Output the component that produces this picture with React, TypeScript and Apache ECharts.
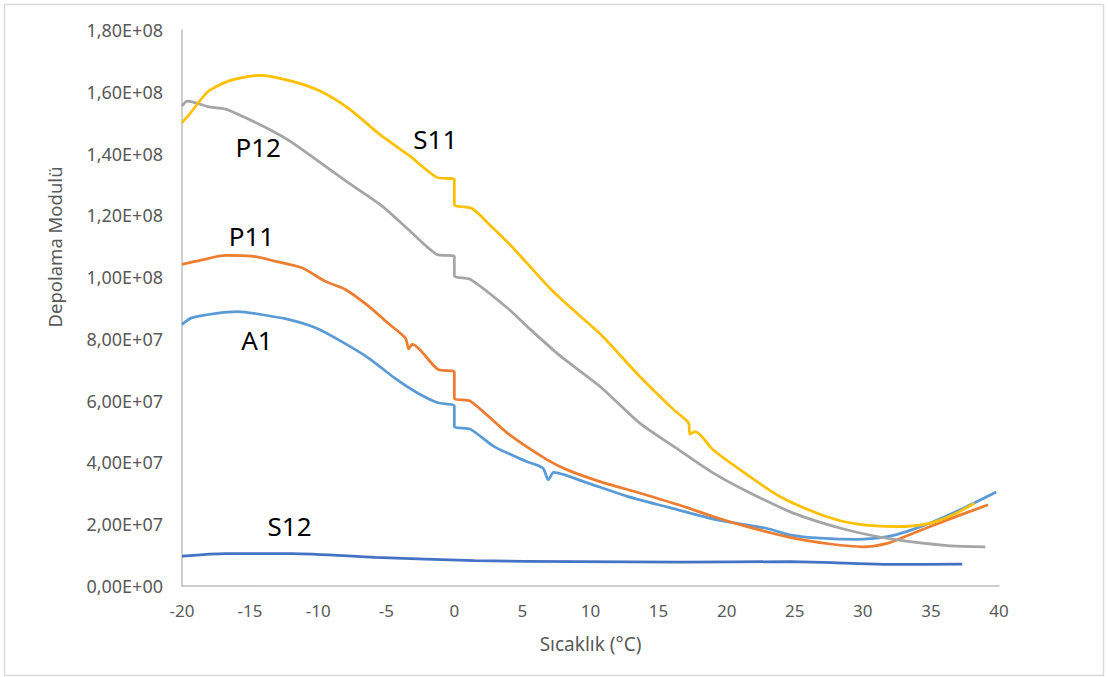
import React, { useEffect, useRef } from "react";
import * as echarts from "echarts";

// Storage modulus (in units of 1e6) versus temperature (°C) for each sample
const A1: [number, number][] = [
  [-20, 84.7], [-19.3, 86.8], [-17.6, 88.2], [-15.9, 88.8], [-14.2, 87.9], [-12.2, 86.3],
  [-10.2, 83.6], [-8.3, 79.2], [-6.3, 73.8], [-4.4, 67.4], [-2.7, 62.5], [-1.2, 59.3],
  [0, 58.2], [0, 51.7], [1.2, 50.7], [2.9, 45.2], [5.3, 40.3], [6.5, 38.2], [6.9, 34.4],
  [7.3, 36.8], [9.5, 33.8], [12.7, 29], [15.6, 25.6], [19.3, 21.4], [22.9, 18.7],
  [24.7, 16.5], [26.9, 15.5], [29.6, 15.1], [31.8, 16], [33.2, 17.6], [34.9, 20.3],
  [37.4, 25.2], [39.8, 30.4],
];

const P11: [number, number][] = [
  [-20, 104.1], [-18.6, 105.5], [-16.8, 107], [-14.9, 106.8], [-13.2, 105.2], [-11.2, 103],
  [-9.5, 98.7], [-8, 96], [-6.3, 90.6], [-4.9, 85.2], [-3.6, 80.3], [-3.35, 76.8],
  [-3.1, 78.2], [-1.2, 70.1], [0, 69.2], [0, 60.9], [1.2, 59.8], [3.9, 49.5], [6.8, 40.9],
  [8.3, 37.6], [10.7, 33.8], [13.6, 30.1], [16.8, 25.8], [19, 22.5], [21.5, 19.2],
  [24.9, 15.5], [27.6, 13.6], [30, 12.7], [31.8, 13.8], [33.7, 17.1], [36.2, 21.4],
  [39.2, 26.3],
];

const P12: [number, number][] = [
  [-20, 155.4], [-19.6, 157], [-18.1, 155.2], [-16.8, 154.4], [-15.1, 151.1], [-13.4, 147.4],
  [-12.1, 144.1], [-10.2, 138.2], [-7.8, 130.6], [-5.3, 123], [-3.4, 115.5], [-1.3, 107.4],
  [0, 106.6], [0, 100.5], [1.2, 99.2], [3.9, 90], [5.6, 83], [7.8, 74.4], [10.7, 64.6],
  [13.6, 52.8], [16.3, 44.6], [19, 36.6], [21.5, 30.6], [24.9, 23.6], [28.8, 18.2],
  [32.5, 14.9], [36.2, 13.1], [39, 12.7],
];

const S11: [number, number][] = [
  [-20, 150], [-19.4, 153], [-18.1, 160], [-16.5, 163.6], [-14.3, 165.3], [-12.1, 163.6],
  [-9.9, 160.3], [-7.7, 154.4], [-5.5, 146.3], [-3.3, 139.3], [-1.3, 132.3], [0, 131.5],
  [0, 123.5], [1.3, 122.2], [2.7, 116.5], [4.2, 110], [7, 96.5], [8.7, 89.5], [10.9, 80.8],
  [13.6, 67.9], [16.1, 57.1], [17.2, 52.8], [17.3, 49.2], [17.7, 50], [19, 44.1],
  [21, 37.6], [23.9, 29], [27.3, 22.5], [29.5, 20.1], [32.5, 19.2], [34.7, 20.1],
  [36.6, 23], [38.2, 26.8],
];

const S12: [number, number][] = [
  [-20, 9.7], [-16.8, 10.5], [-11.9, 10.5], [-5.8, 9.3], [1.5, 8.2], [8.9, 7.9],
  [16.6, 7.7], [24.7, 7.9], [28.8, 7.4], [31.8, 7.0], [37.3, 7.1],
];

const SERIES_NAMES = ["A1", "P11", "P12", "S11", "S12"];
const SERIES_DATA = [A1, P11, P12, S11, S12];
const SERIES_COLORS = ["#5B9BD5", "#ED7D31", "#A5A5A5", "#FFC000", "#4472C4"];
// where each series name is written, in data coordinates
const NAME_AT: [number, number][] = [
  [-14.5, 79.8], [-14.9, 113.2], [-14.4, 142.1], [-1.4, 144.7], [-12.1, 19.5],
];

const X_MIN = -20;
const X_MAX = 40;
const X_STEP = 5;
const Y_MAX = 180;
const Y_STEP = 20;
const UNIT = 1e6;

const FONT = "'Noto Sans', 'Open Sans', sans-serif";

function sci(v: number): string {
  const raw = v * UNIT;
  if (raw === 0) return "0,00E+00";
  const exp = Math.floor(Math.log10(raw) + 1e-9);
  const mant = raw / Math.pow(10, exp);
  const e = String(Math.abs(exp)).padStart(2, "0");
  return mant.toFixed(2).replace(".", ",") + "E" + (exp < 0 ? "-" : "+") + e;
}

export default function App() {
  const ref = useRef<HTMLDivElement>(null);

  useEffect(() => {
    if (!ref.current) return;
    const chart = echarts.init(ref.current, null, { renderer: "svg" });

    const series = SERIES_NAMES.map((name, i) => ({
      name,
      type: "line",
      data: SERIES_DATA[i].map(([x, y]) => [x, y]),
      showSymbol: false,
      symbol: "none",
      smooth: 0.25,
      lineStyle: { color: SERIES_COLORS[i], width: 2.75 },
      itemStyle: { color: SERIES_COLORS[i] },
      z: i === 4 ? 1 : 2 + i,
      markPoint: {
        symbol: "rect",
        symbolSize: 1,
        itemStyle: { color: "rgba(0,0,0,0)" },
        label: {
          show: true,
          position: "inside",
          formatter: name,
          color: "#000000",
          fontSize: 26,
          fontFamily: FONT,
        },
        data: [{ coord: NAME_AT[i] }],
      },
    }));

    chart.setOption({
      animation: false,
      backgroundColor: "#ffffff",
      grid: { left: 182, right: 109, top: 30, bottom: 91 },
      xAxis: {
        type: "value",
        min: X_MIN,
        max: X_MAX,
        interval: X_STEP,
        name: "Sıcaklık (°C)",
        nameLocation: "middle",
        nameGap: 48,
        nameTextStyle: { color: "#595959", fontSize: 19, fontFamily: FONT },
        axisLine: { show: true, onZero: false, lineStyle: { color: "#BFBFBF", width: 1.5 } },
        axisTick: { show: false },
        splitLine: { show: false },
        axisLabel: { color: "#595959", fontSize: 17, fontFamily: FONT, margin: 16 },
      },
      yAxis: {
        type: "value",
        min: 0,
        max: Y_MAX,
        interval: Y_STEP,
        axisLine: { show: true, onZero: false, lineStyle: { color: "#BFBFBF", width: 1.5 } },
        axisTick: { show: false },
        splitLine: { show: false },
        axisLabel: {
          color: "#595959",
          fontSize: 18,
          fontFamily: FONT,
          margin: 19,
          formatter: (v: number) => sci(v),
        },
      },
      graphic: [
        {
          type: "rect",
          shape: { x: 4.5, y: 4.5, width: 1099, height: 671 },
          style: { fill: "none", stroke: "#D9D9D9", lineWidth: 1.5 },
          silent: true,
        },
        {
          type: "text",
          x: 54,
          y: 247,
          rotation: Math.PI / 2,
          style: {
            text: "Depolama Modulü",
            fill: "#595959",
            fontSize: 18.5,
            fontFamily: FONT,
            textAlign: "center",
            textVerticalAlign: "middle",
          },
        },
      ],
      series,
    });

    return () => chart.dispose();
  }, []);

  return (
    <div
      ref={ref}
      style={{ position: "fixed", left: 0, top: 0, width: 1108, height: 677, background: "#fff" }}
    />
  );
}
